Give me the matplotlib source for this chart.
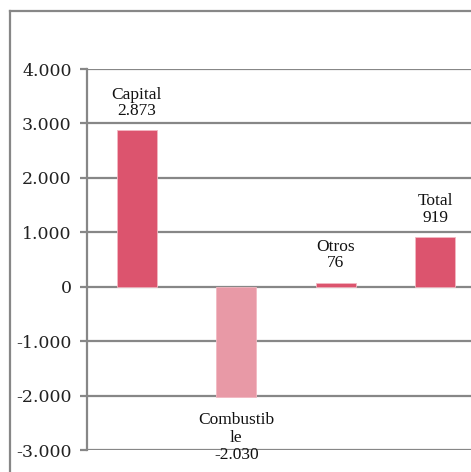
import matplotlib.pyplot as plt
from matplotlib.lines import Line2D
import numpy as np

categories = ["Capital", "Combustible", "Otros", "Total"]
label_text = ["Capital", "Combustib\nle", "Otros", "Total"]
values = [2873, -2030, 76, 919]
value_text = ["2.873", "-2.030", "76", "919"]
colors = ["#dc546e", "#e899a6", "#dc546e", "#dc546e"]
yticks = [-3000, -2000, -1000, 0, 1000, 2000, 3000, 4000]
ytick_labels = ["-3.000", "-2.000", "-1.000", "0", "1.000", "2.000", "3.000", "4.000"]

grey = "#878787"

fig = plt.figure(figsize=(4.71, 4.72), dpi=100)
ax = fig.add_axes([0.1847, 0.0466, 0.845, 0.8072])

x = np.arange(len(categories))
ax.bar(x, values, width=0.4, color=colors, edgecolor="#f2b8c2", linewidth=0.6, zorder=3)

ax.set_xlim(-0.5, 3.5)
ax.set_ylim(-3000, 4000)
ax.set_yticks(yticks)
ax.set_yticklabels(ytick_labels, fontfamily="DejaVu Serif", fontsize=12.5, color="#222222")
ax.set_xticks([])
ax.yaxis.grid(True, color=grey, linewidth=1.6, zorder=0)
ax.tick_params(axis="y", length=5, width=1.6, color=grey, pad=6)

for side in ["top", "right", "bottom"]:
    ax.spines[side].set_visible(False)
ax.spines["left"].set_color(grey)
ax.spines["left"].set_linewidth(1.6)

for i, v in enumerate(values):
    if v >= 0:
        ax.annotate(label_text[i] + "\n" + value_text[i], (x[i], v),
                    xytext=(0, 8), textcoords="offset points",
                    ha="center", va="bottom", fontfamily="Liberation Serif",
                    fontsize=12.5, linespacing=1.05, color="#111111")
    else:
        ax.annotate(label_text[i] + "\n" + value_text[i], (x[i], v),
                    xytext=(0, -11), textcoords="offset points",
                    ha="center", va="top", fontfamily="Liberation Serif",
                    fontsize=12.5, linespacing=1.12, color="#111111",
                    annotation_clip=False)

# outer frame of the original chart box
fig.add_artist(Line2D([0.0212, 0.0212], [0, 0.9767], transform=fig.transFigure,
                      color=grey, linewidth=1.6))
fig.add_artist(Line2D([0.0212, 1.0], [0.9767, 0.9767], transform=fig.transFigure,
                      color=grey, linewidth=1.6))

fig.savefig("out.png", dpi=100)
